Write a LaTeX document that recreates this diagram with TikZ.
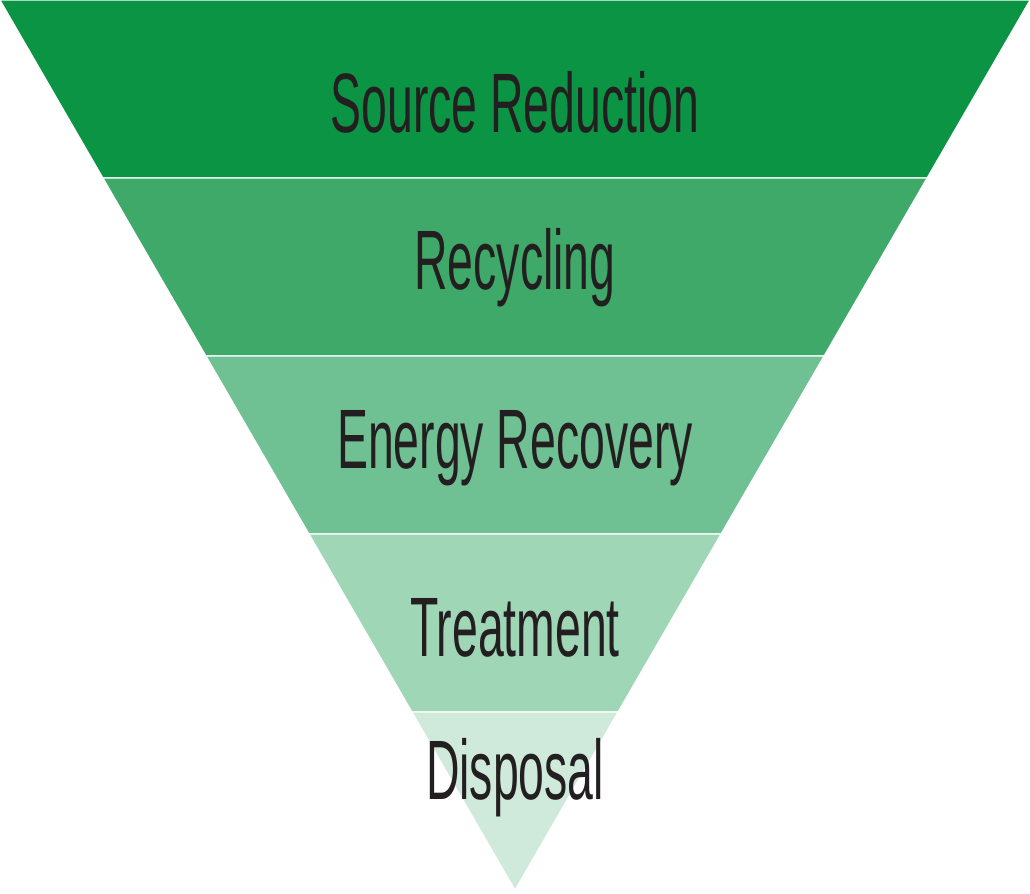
\documentclass[tikz,border=0pt]{standalone}
\usepackage{fontspec}
\setmainfont{Liberation Sans}
\usetikzlibrary{calc}
\definecolor{bandA}{HTML}{0A9444}
\definecolor{bandB}{HTML}{3FA96A}
\definecolor{bandC}{HTML}{6FC193}
\definecolor{bandD}{HTML}{9FD6B5}
\definecolor{bandE}{HTML}{CFEADB}
\definecolor{labelink}{HTML}{231F20}

\begin{document}
\begin{tikzpicture}[x=0.02cm,y=-0.02cm,
band/.style = {draw=white, line width=0.6pt},
level/.style = {text=labelink, font=\fontsize{48}{48}\selectfont, xscale=0.55, inner sep=0pt}
]
\useasboundingbox (0,0) rectangle (1030,893);

% apex and top corners
\coordinate (tl) at (0,0);
\coordinate (tr) at (1030,0);
\coordinate (ap) at (515,890);

\foreach \i/\c in {0/bandA,1/bandB,2/bandC,3/bandD,4/bandE}{
  \pgfmathsetmacro{\ta}{\i/5}
  \pgfmathsetmacro{\tb}{(\i+1)/5}
  \fill [band, fill=\c] ($ (tl)!\ta!(ap) $) -- ($ (tr)!\ta!(ap) $)
    -- ($ (tr)!\tb!(ap) $) -- ($ (tl)!\tb!(ap) $) -- cycle;
}

\node [level] (source) at (515,102) {Source Reduction};
\node [level] (recycle) at (515,268) {Recycling};
\node [level] (energy) at (515,448) {Energy Recovery};
\node [level] (treat) at (515,628) {Treatment};
\node [level] (dispose) at (515,778) {Disposal};

\end{tikzpicture}
\end{document}
